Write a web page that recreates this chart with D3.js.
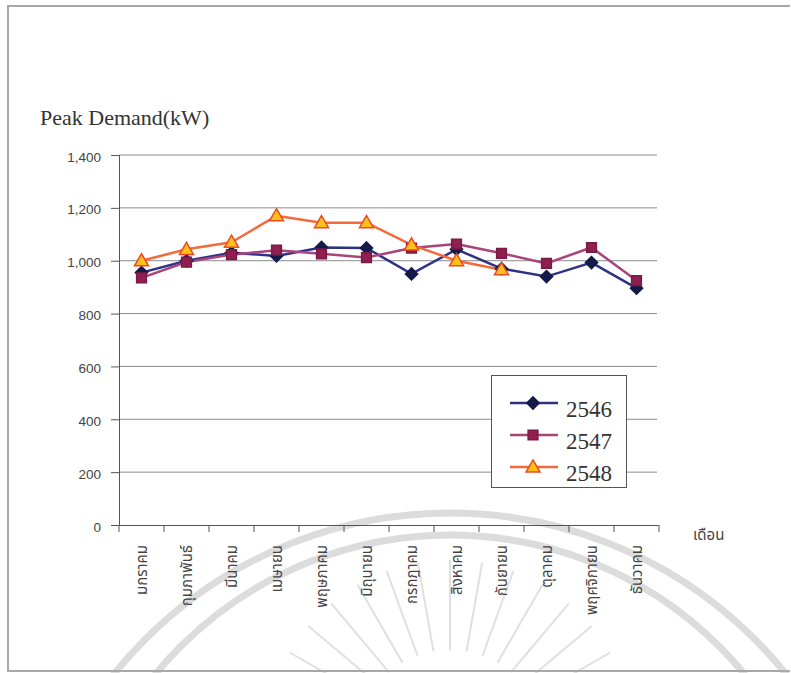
<!DOCTYPE html>
<html><head><meta charset="utf-8">
<script src="https://cdn.jsdelivr.net/npm/d3@7"></script>
<style>
html,body{margin:0;padding:0;background:#fff;}
svg{display:block;}
</style></head>
<body>
<svg id="chart" width="791" height="673"></svg>
<script>
const months = ["มกราคม","กุมภาพันธ์","มีนาคม","เมษายน","พฤษภาคม","มิถุนายน","กรกฎาคม","สิงหาคม","กันยายน","ตุลาคม","พฤศจิกายน","ธันวาคม"];
const years = ["2546","2547","2548"];
const values2546 = [955, 1000, 1030, 1018, 1050, 1048, 950, 1043, 970, 940, 993, 896];
const values2547 = [935, 995, 1023, 1040, 1026, 1012, 1048, 1063, 1028, 990, 1050, 925];
const values2548 = [1000, 1043, 1070, 1170, 1144, 1144, 1060, 1000, 966];
const yTicks = [0, 200, 400, 600, 800, 1000, 1200, 1400];
const yTitle = "Peak Demand(kW)";
const xTitle = "เดือน";

const svg = d3.select("#chart");
const thaiFont = "'Noto Sans Thai','Loma','Garuda','Norasi','TlwgTypo','Tlwg Typist','DejaVu Sans',sans-serif";
const serif = "'Liberation Serif','Times New Roman',serif";
const sans = "'Liberation Sans',Arial,sans-serif";

// watermark (background seal)
const wm = svg.append("g");
wm.append("circle").attr("cx", 450).attr("cy", 944).attr("r", 431)
  .attr("fill", "none").attr("stroke", "#dcdcdc").attr("stroke-width", 7);
wm.append("circle").attr("cx", 450).attr("cy", 916).attr("r", 381)
  .attr("fill", "none").attr("stroke", "#dcdcdc").attr("stroke-width", 7);
d3.range(-160, -15, 10).forEach(a => {
  const t = a * Math.PI / 180;
  wm.append("line")
    .attr("x1", 450 + Math.cos(t) * 95).attr("y1", 745 + Math.sin(t) * 95)
    .attr("x2", 450 + Math.cos(t) * 185).attr("y2", 745 + Math.sin(t) * 185)
    .attr("stroke", "#e0e0e0").attr("stroke-width", 2);
});

// frame
svg.append("path").attr("d", "M790,6 L8,6 L8,671 L790,671")
  .attr("fill", "none").attr("stroke", "#a8a8a8").attr("stroke-width", 2);

const x = d3.scaleBand().domain(months).range([119, 659]).padding(0);
const y = d3.scaleLinear().domain([0, 1400]).range([525, 155]);

// gridlines
svg.append("g").selectAll("line").data(yTicks.filter(d => d > 0)).join("line")
  .attr("x1", 119).attr("x2", 657)
  .attr("y1", d => y(d)).attr("y2", d => y(d))
  .attr("stroke", "#8c8c8c").attr("stroke-width", 1);

// y axis
const yAxis = svg.append("g").attr("transform", "translate(119,0)")
  .call(d3.axisLeft(y).tickValues(yTicks).tickSize(8).tickPadding(10).tickFormat(d3.format(",")));
yAxis.select(".domain").attr("stroke", "#555");
yAxis.selectAll(".tick line").attr("stroke", "#555");
yAxis.selectAll(".tick text").attr("font-family", sans).attr("font-size", 13.5).attr("fill", "#444").attr("dy", "0.45em");

// x axis
const xAxis = svg.append("g").attr("transform", "translate(0,525)")
  .call(d3.axisBottom(x).tickSize(0).tickFormat(""));
xAxis.select(".domain").attr("stroke", "#555").attr("d", "M111,0.5H659");
const bounds = months.map(m => x(m)).concat([x(months[months.length - 1]) + x.bandwidth()]);
xAxis.append("g").selectAll("line").data(bounds).join("line")
  .attr("x1", d => d).attr("x2", d => d).attr("y1", 0).attr("y2", 7)
  .attr("stroke", "#555");
xAxis.append("g").selectAll("text").data(months).join("text")
  .attr("transform", d => `translate(${x(d) + x.bandwidth() / 2 + 5},20) rotate(-90)`)
  .attr("text-anchor", "end")
  .attr("font-family", thaiFont).attr("font-size", 15).attr("fill", "#444")
  .text(d => d);

// titles
svg.append("text").attr("x", 40).attr("y", 125).attr("font-family", serif).attr("font-size", 22)
  .attr("fill", "#333").text(yTitle);
svg.append("text").attr("x", 693).attr("y", 540).attr("font-family", thaiFont).attr("font-size", 15)
  .attr("fill", "#444").text(xTitle);

// series
const series = [
  {name: years[0], values: values2546, line: "#2e3284", fill: "#141a4a", stroke: "#141a4a", shape: d3.symbolDiamond2 || d3.symbolDiamond, size: 95},
  {name: years[1], values: values2547, line: "#a8447a", fill: "#8e1f50", stroke: "#7a1a45", shape: d3.symbolSquare, size: 95},
  {name: years[2], values: values2548, line: "#f36a3b", fill: "#ffc21a", stroke: "#ec4a22", shape: d3.symbolTriangle, size: 85}
];
const line = d3.line().x((d, i) => x(months[i]) + x.bandwidth() / 2).y(d => y(d));

series.forEach(s => {
  svg.append("path").datum(s.values).attr("d", line)
    .attr("fill", "none").attr("stroke", s.line).attr("stroke-width", 2.5);
});
series.forEach(s => {
  svg.append("g").selectAll("path").data(s.values).join("path")
    .attr("transform", (d, i) => `translate(${x(months[i]) + x.bandwidth() / 2},${y(d) + (s.shape === d3.symbolTriangle ? 1 : 0)})`)
    .attr("d", d3.symbol(s.shape, s.size))
    .attr("fill", s.fill).attr("stroke", s.stroke).attr("stroke-width", 1.5);
});

// legend
const lg = svg.append("g");
lg.append("rect").attr("x", 491.5).attr("y", 375.5).attr("width", 135).attr("height", 112)
  .attr("fill", "#fff").attr("stroke", "#555").attr("stroke-width", 1);
series.forEach((s, i) => {
  const ry = 403 + i * 32;
  lg.append("line").attr("x1", 510).attr("x2", 558).attr("y1", ry).attr("y2", ry)
    .attr("stroke", s.line).attr("stroke-width", 2.5);
  lg.append("path").attr("transform", `translate(533,${ry + (s.shape === d3.symbolTriangle ? 1 : 0)})`)
    .attr("d", d3.symbol(s.shape, s.size)).attr("fill", s.fill).attr("stroke", s.stroke).attr("stroke-width", 1.5);
  lg.append("text").attr("x", 566).attr("y", ry + 14).attr("font-family", serif).attr("font-size", 23)
    .attr("fill", "#333").text(s.name);
});
</script>
</body></html>
